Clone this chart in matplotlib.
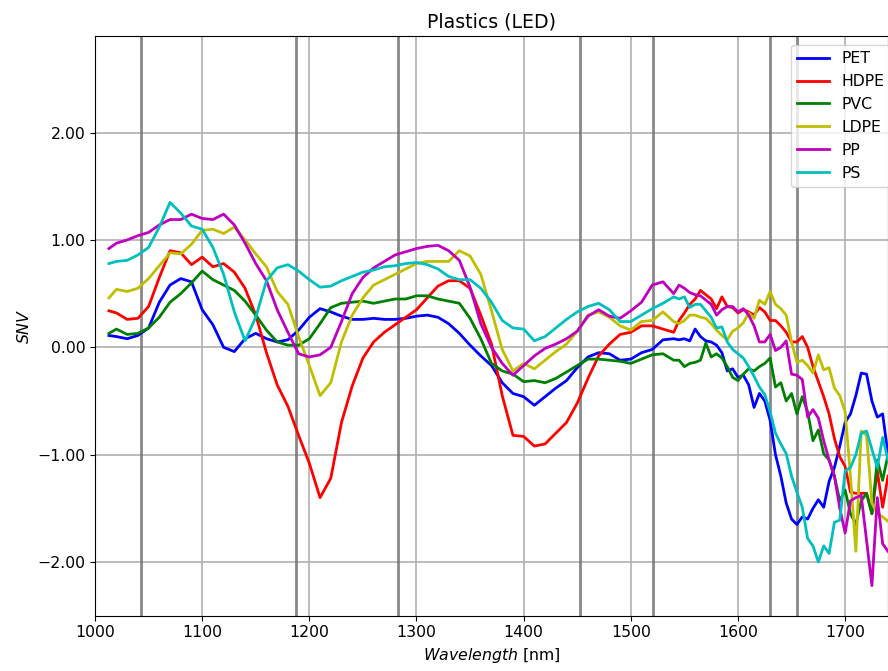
import matplotlib.pyplot as plt
import numpy as np

plt.rcParams['font.size'] = 11.3

# Wavelength grid (nm): 10 nm steps up to 1540, then 5 nm steps
wavelength = np.concatenate([[1013], np.arange(1020, 1541, 10), np.arange(1545, 1741, 5)])

pet = [0.11, 0.10, 0.08, 0.11, 0.18, 0.42, 0.58, 0.64, 0.61, 0.35,
       0.21, 0.00, -0.04, 0.08, 0.13, 0.08, 0.05, 0.07, 0.16, 0.28,
       0.36, 0.33, 0.29, 0.26, 0.26, 0.27, 0.26, 0.26, 0.27, 0.29,
       0.30, 0.28, 0.22, 0.13, 0.02, -0.08, -0.17, -0.33, -0.43, -0.46,
       -0.54, -0.46, -0.38, -0.31, -0.19, -0.09, -0.05, -0.06, -0.12, -0.11,
       -0.05, -0.02, 0.07, 0.08,
       0.07, 0.08, 0.06, 0.17, 0.10, 0.06, 0.05, 0.02, -0.05, -0.22,
       -0.20, -0.28, -0.26, -0.35, -0.56, -0.43, -0.50, -0.68, -1.00, -1.20,
       -1.45, -1.60, -1.65, -1.58, -1.60, -1.50, -1.42, -1.49, -1.25, -1.12,
       -0.92, -0.70, -0.62, -0.45, -0.24, -0.25, -0.50, -0.65, -0.62, -1.00]

hdpe = [0.34, 0.32, 0.26, 0.27, 0.38, 0.65, 0.90, 0.88, 0.77, 0.84,
        0.75, 0.78, 0.70, 0.55, 0.30, -0.05, -0.35, -0.55, -0.82, -1.08,
        -1.40, -1.22, -0.70, -0.36, -0.10, 0.05, 0.14, 0.21, 0.28, 0.35,
        0.46, 0.57, 0.62, 0.62, 0.55, 0.30, 0.03, -0.45, -0.82, -0.83,
        -0.92, -0.90, -0.80, -0.70, -0.52, -0.29, -0.08, 0.03, 0.12, 0.14,
        0.20, 0.20, 0.17, 0.14,
        0.25, 0.32, 0.40, 0.45, 0.53, 0.49, 0.45, 0.36, 0.47, 0.38,
        0.37, 0.32, 0.35, 0.33, 0.30, 0.37, 0.33, 0.25, 0.25, 0.20,
        0.14, 0.05, 0.05, 0.10, 0.00, -0.18, -0.32, -0.46, -0.62, -0.85,
        -1.02, -1.11, -1.35, -1.36, -1.36, -1.36, -1.55, -1.15, -1.49, -1.20]

pvc = [0.13, 0.17, 0.12, 0.13, 0.18, 0.28, 0.42, 0.50, 0.60, 0.71,
       0.63, 0.58, 0.53, 0.43, 0.30, 0.16, 0.05, 0.02, 0.02, 0.08,
       0.22, 0.37, 0.41, 0.42, 0.43, 0.41, 0.43, 0.45, 0.45, 0.48,
       0.48, 0.45, 0.43, 0.41, 0.27, 0.08, -0.15, -0.22, -0.25, -0.32,
       -0.31, -0.33, -0.29, -0.23, -0.17, -0.11, -0.11, -0.12, -0.13, -0.15,
       -0.11, -0.07, -0.06, -0.12,
       -0.12, -0.18, -0.15, -0.14, -0.12, 0.04, -0.09, -0.06, -0.10, -0.18,
       -0.28, -0.31, -0.25, -0.20, -0.22, -0.18, -0.15, -0.10, -0.37, -0.33,
       -0.50, -0.43, -0.62, -0.46, -0.60, -0.87, -0.77, -0.99, -1.05, -1.20,
       -1.43, -1.33, -1.55, -1.65, -1.43, -1.36, -1.55, -1.05, -1.24, -1.00]

ldpe = [0.46, 0.54, 0.52, 0.55, 0.64, 0.76, 0.88, 0.87, 0.96, 1.09,
        1.10, 1.06, 1.12, 1.00, 0.87, 0.75, 0.52, 0.40, 0.10, -0.17,
        -0.45, -0.33, 0.05, 0.30, 0.46, 0.58, 0.63, 0.68, 0.73, 0.78,
        0.80, 0.80, 0.80, 0.90, 0.85, 0.68, 0.34, -0.02, -0.22, -0.15,
        -0.20, -0.12, -0.04, 0.03, 0.15, 0.30, 0.33, 0.28, 0.20, 0.16,
        0.24, 0.25, 0.33, 0.24,
        0.22, 0.25, 0.30, 0.30, 0.28, 0.27, 0.22, 0.16, 0.11, 0.07,
        0.15, 0.18, 0.23, 0.32, 0.27, 0.44, 0.40, 0.52, 0.40, 0.36,
        0.30, 0.05, -0.14, -0.12, -0.17, -0.24, -0.07, -0.21, -0.19, -0.38,
        -0.45, -0.60, -1.20, -1.90, -0.78, -0.82, -1.45, -1.55, -1.58, -1.62]

pp = [0.92, 0.97, 1.00, 1.04, 1.07, 1.14, 1.19, 1.19, 1.24, 1.20,
      1.19, 1.24, 1.14, 0.97, 0.78, 0.62, 0.35, 0.14, -0.06, -0.09,
      -0.07, 0.00, 0.24, 0.50, 0.65, 0.74, 0.80, 0.86, 0.89, 0.92,
      0.94, 0.95, 0.90, 0.81, 0.56, 0.22, 0.00, -0.15, -0.26, -0.17,
      -0.08, -0.01, 0.03, 0.08, 0.15, 0.29, 0.35, 0.29, 0.27, 0.34,
      0.42, 0.58, 0.61, 0.50,
      0.58, 0.55, 0.51, 0.49, 0.48, 0.44, 0.40, 0.30, 0.35, 0.38,
      0.38, 0.33, 0.36, 0.30, 0.20, 0.05, 0.05, 0.12, -0.03, 0.00,
      0.06, -0.25, -0.26, -0.30, -0.65, -0.58, -0.66, -0.87, -1.05, -1.20,
      -1.50, -1.73, -1.43, -1.40, -1.38, -1.80, -2.22, -1.40, -1.83, -1.90]

ps = [0.78, 0.80, 0.81, 0.86, 0.93, 1.12, 1.35, 1.25, 1.13, 1.10,
      0.93, 0.68, 0.33, 0.06, 0.28, 0.62, 0.74, 0.77, 0.71, 0.63,
      0.56, 0.57, 0.62, 0.66, 0.70, 0.72, 0.75, 0.76, 0.78, 0.79,
      0.77, 0.73, 0.66, 0.63, 0.63, 0.55, 0.42, 0.25, 0.18, 0.17,
      0.06, 0.10, 0.18, 0.26, 0.33, 0.38, 0.41, 0.35, 0.24, 0.24,
      0.30, 0.36, 0.41, 0.47,
      0.45, 0.47, 0.37, 0.40, 0.40, 0.34, 0.28, 0.18, 0.19, 0.05,
      -0.02, -0.06, -0.10, -0.18, -0.27, -0.37, -0.44, -0.60, -0.80, -0.90,
      -0.99, -1.20, -1.35, -1.49, -1.78, -1.85, -2.00, -1.85, -1.92, -1.63,
      -1.61, -1.15, -1.12, -1.00, -0.80, -0.78, -0.95, -1.12, -0.84, -1.05]

series = [("PET", pet, "b"), ("HDPE", hdpe, "r"), ("PVC", pvc, "g"),
          ("LDPE", ldpe, "y"), ("PP", pp, "m"), ("PS", ps, "c")]

# LED peak positions (nm)
led_lines = [1043, 1188, 1283, 1453, 1521, 1630, 1655]

fig = plt.figure(figsize=(8.88, 6.71), dpi=100)
ax = fig.add_axes([0.107, 0.0824, 0.893, 0.864])

for name, vals, col in series:
    ax.plot(wavelength, vals, color=col, lw=2, label=name, zorder=3)

for w in led_lines:
    ax.axvline(w, color="0.45", lw=2, alpha=0.85, zorder=2)

ax.grid(True, color="#b0b0b0", lw=1.2, zorder=1)
ax.set_axisbelow(True)
ax.set_xlim(1000, 1740)
ax.set_ylim(-2.5, 2.9)
ax.set_yticks([-2, -1, 0, 1, 2])
ax.yaxis.set_major_formatter(
    plt.FuncFormatter(lambda v, pos: f"{v:.2f}".replace("-", "\u2212")))
ax.set_title("Plastics (LED)")
ax.set_xlabel("$Wavelength$ [nm]")
ax.set_ylabel("$SNV$")

ax.legend(loc="upper left", bbox_to_anchor=(791 / 888, 1 - 45 / 671),
          bbox_transform=fig.transFigure, borderaxespad=0)

fig.savefig("out.png", dpi=100)
